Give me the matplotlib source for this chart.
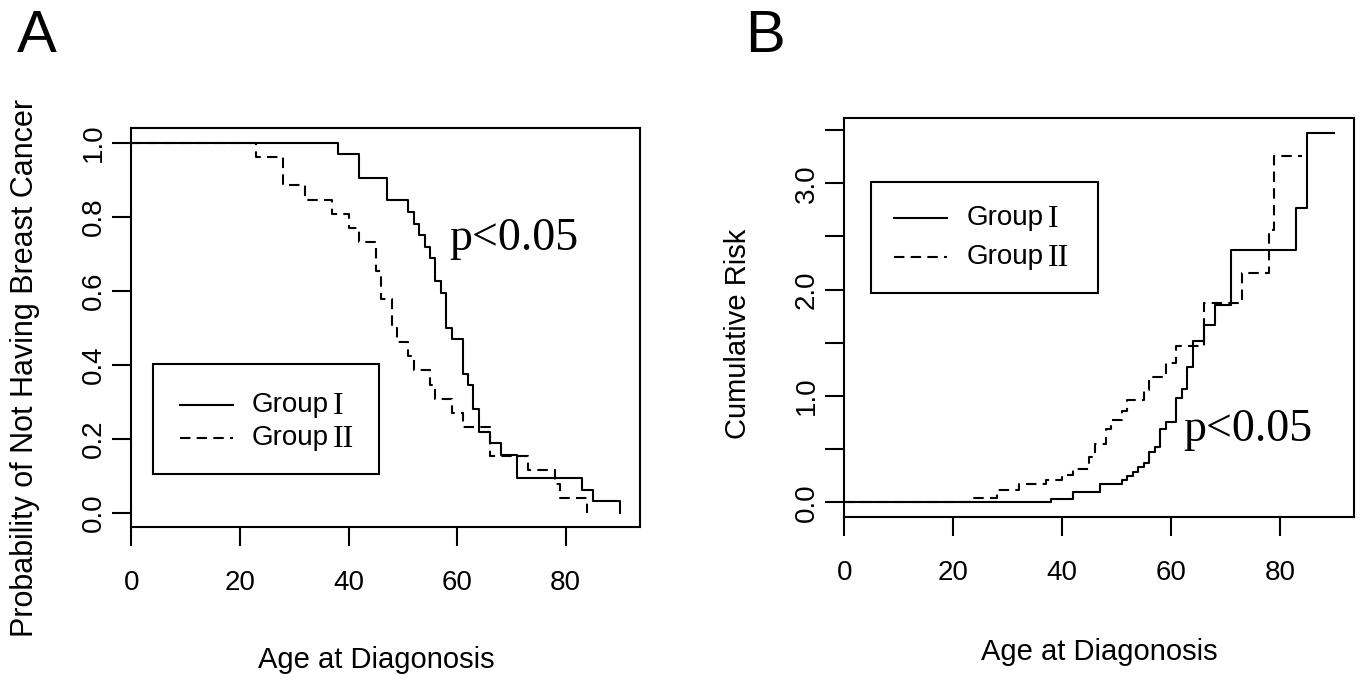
import numpy as np
import matplotlib
matplotlib.use('Agg')
import matplotlib.pyplot as plt
from matplotlib.lines import Line2D
from matplotlib.patches import Rectangle

plt.rcParams['font.family'] = ['Liberation Sans', 'DejaVu Sans']

# datos leidos del grafico
# grupo I (linea continua)
edad_g1 = [0, 38, 42, 47, 51, 52, 53, 54, 55, 56, 57, 58, 59, 61, 62, 63, 64, 66, 68, 71, 83, 85, 90]
prob_g1 = [1.0, 0.969, 0.906, 0.844, 0.812, 0.781, 0.750, 0.719, 0.688, 0.625, 0.594, 0.500,
           0.469, 0.375, 0.344, 0.281, 0.219, 0.188, 0.156, 0.094, 0.062, 0.031, 0.0]
riesgo_g1 = [0.0, 0.032, 0.098, 0.17, 0.208, 0.248, 0.288, 0.33, 0.375, 0.47, 0.52, 0.69,
             0.76, 0.98, 1.07, 1.27, 1.52, 1.67, 1.86, 2.37, 2.77, 3.47, 3.47]

# grupo II (linea discontinua)
edad_g2 = [0, 23, 28, 32, 37, 40, 42, 45, 46, 48, 49, 51, 52, 55, 56, 59, 61, 66, 73, 78, 79, 84]
prob_g2 = [1.0, 0.962, 0.885, 0.846, 0.808, 0.769, 0.731, 0.654, 0.577, 0.500, 0.462, 0.423,
           0.385, 0.346, 0.308, 0.269, 0.231, 0.154, 0.115, 0.077, 0.038, 0.0]
riesgo_g2 = [0.0, 0.039, 0.12, 0.17, 0.21, 0.26, 0.31, 0.43, 0.55, 0.69, 0.77, 0.86,
             0.96, 1.06, 1.18, 1.31, 1.47, 1.87, 2.16, 2.56, 3.26, 3.26]

xticks = [0, 20, 40, 60, 80]
yticks_A = [0.0, 0.2, 0.4, 0.6, 0.8, 1.0]
yticks_B = [0.0, 0.5, 1.0, 1.5, 2.0, 2.5, 3.0, 3.5]
ylabels_B = ['0.0', '', '1.0', '', '2.0', '', '3.0', '']

W, H = 1361, 679
fig = plt.figure(figsize=(W / 100, H / 100), dpi=100)

def ejes(l, t, r, b):
    return fig.add_axes([l / W, 1 - b / H, (r - l) / W, (b - t) / H])

def estilo(ax):
    for s in ax.spines.values():
        s.set_linewidth(1.5)
    ax.tick_params(direction='out', length=13.5, width=1.5, labelsize=20)
    ax.tick_params(axis='x', pad=17)
    ax.tick_params(axis='y', pad=4)
    for t in ax.get_yticklabels():
        t.set_rotation(90)
        t.set_va('center')

dash = (0, (5, 3))

# ---------------- panel A
axA = ejes(131.3, 128, 639.6, 527.3)
axA.step(edad_g1, prob_g1, where='post', color='black', lw=1.5)
axA.step(edad_g2, prob_g2, where='post', color='black', lw=1.5, linestyle=dash)
axA.set_xlim(0, 93.6)
axA.set_ylim(-0.04, 1.04)
axA.set_xticks(xticks)
axA.set_yticks(yticks_A)
axA.set_yticklabels(['%.1f' % v for v in yticks_A])
estilo(axA)
axA.set_xlabel('Age at Diagonosis', fontsize=21, va='center')
axA.xaxis.set_label_coords(0.483, -0.332)
axA.set_ylabel('Probability of Not Having Breast Cancer', fontsize=22, va='center')
axA.yaxis.set_label_coords(-0.209, 0.40)
axA.text(70.5, 0.74, 'p<0.05', fontsize=33, family='Liberation Serif', ha='center', va='center')

# ---------------- panel B
axB = ejes(844.3, 118.3, 1354, 517.3)
axB.step(edad_g1, riesgo_g1, where='post', color='black', lw=1.5)
axB.step(edad_g2, riesgo_g2, where='post', color='black', lw=1.5, linestyle=dash)
axB.set_xlim(0, 93.6)
axB.set_ylim(-0.14, 3.61)
axB.set_xticks(xticks)
axB.set_yticks(yticks_B)
axB.set_yticklabels(ylabels_B)
estilo(axB)
axB.set_xlabel('Age at Diagonosis', fontsize=21, va='center')
axB.xaxis.set_label_coords(0.5, -0.338)
axB.set_ylabel('Cumulative Risk', fontsize=21, va='center')
axB.yaxis.set_label_coords(-0.209, 0.46)
axB.text(74.1, 0.68, 'p<0.05', fontsize=33, family='Liberation Serif', ha='center', va='center')

# leyendas dibujadas a mano (Group en sans, numeral romano en serif)
def leyenda(ax, x0, y0, x1, y1, ys, xl0, xl1, xt):
    fig.add_artist(Rectangle((x0 / W, 1 - y1 / H), (x1 - x0) / W, (y1 - y0) / H,
                             transform=fig.transFigure, fill=False, lw=1.5, ec='black'))
    for y, ls, num in zip(ys, ['-', dash], ['I', 'II']):
        fig.add_artist(Line2D([xl0 / W, xl1 / W], [1 - y / H, 1 - y / H],
                              transform=fig.transFigure, color='black', lw=1.5, linestyle=ls))
        t = fig.text(xt / W, 1 - y / H, 'Group', fontsize=20, va='center', ha='left')
        ax.annotate(num, xy=(1, 0.5), xycoords=t, xytext=(3, -1), textcoords='offset points',
                    fontsize=23, family='Liberation Serif', va='center', ha='left',
                    annotation_clip=False)

leyenda(axA, 153, 364, 379, 474, [405, 437.7], 180, 233, 252)
leyenda(axB, 871, 182, 1098, 293, [218, 256.7], 894, 947, 967)

fig.text(37 / W, 1 - 37 / H, 'A', fontsize=43, ha='center', va='center')
fig.text(765 / W, 1 - 37 / H, 'B', fontsize=43, ha='center', va='center')

fig.savefig('out.png', dpi=100)
